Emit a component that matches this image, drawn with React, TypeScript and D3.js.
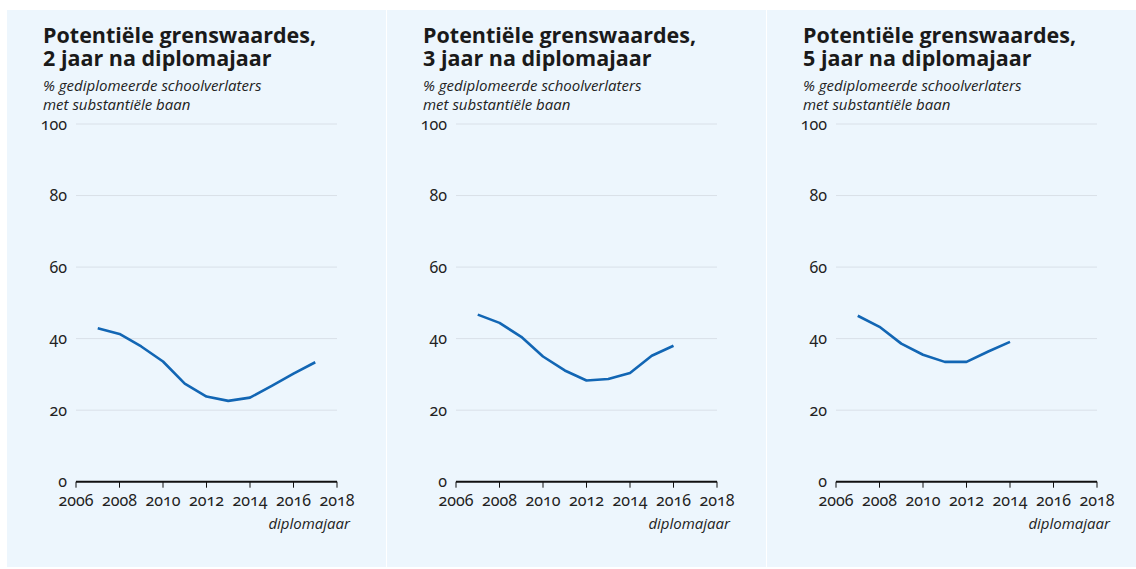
import React from "react";
import * as d3 from "d3";

const years = [2007, 2008, 2009, 2010, 2011, 2012, 2013, 2014, 2015, 2016, 2017];
const after2 = [42.9, 41.3, 37.8, 33.6, 27.4, 23.8, 22.6, 23.5, 26.8, 30.2, 33.4];
const after3 = [46.7, 44.4, 40.5, 35.0, 31.1, 28.3, 28.7, 30.4, 35.2, 38.0];
const after5 = [46.4, 43.3, 38.6, 35.5, 33.5, 33.5, 36.4, 39.1];
const panelLabels = ["2 jaar na diplomajaar", "3 jaar na diplomajaar", "5 jaar na diplomajaar"];
const yTicks = [0, 20, 40, 60, 80, 100];
const xTicks = [2006, 2008, 2010, 2012, 2014, 2016, 2018];

const W = 1136;
const H = 569;
const panelW = 380;
const series = [after2, after3, after5];

const x = d3.scaleLinear().domain([2006, 2018]).range([76, 337]);
const y = d3.scaleLinear().domain([0, 100]).range([481.7, 124]);
const line = d3
  .line<number>()
  .x((_, i) => x(years[i]))
  .y((d) => y(d));

const sans = "'Open Sans', 'Noto Sans', sans-serif";
const numFont = "'Noto Sans', 'Open Sans', sans-serif";
const numStyle = { fontFeatureSettings: "'onum' 1", fontVariantNumeric: "oldstyle-nums" } as React.CSSProperties;

function Panel({ i }: { i: number }) {
  const values = series[i];
  return (
    <g transform={`translate(${i * panelW},0)`}>
      <rect x={7} y={10} width={panelW - 1} height={H - 12} fill="#edf6fd" />
      <text x={43} y={43} fontFamily={sans} fontWeight={700} fontSize={21.5} fill="#1a1a1a">
        Potentiële grenswaardes,
      </text>
      <text x={43} y={66} fontFamily={sans} fontWeight={700} fontSize={21.5} fill="#1a1a1a">
        {panelLabels[i]}
      </text>
      <text x={43} y={91} fontFamily={sans} fontStyle="italic" fontSize={15} fill="#222">
        % gediplomeerde schoolverlaters
      </text>
      <text x={43} y={110} fontFamily={sans} fontStyle="italic" fontSize={15} fill="#222">
        met substantiële baan
      </text>
      {yTicks.map((t) => (
        <g key={t}>
          {t > 0 && (
            <line x1={x(2006)} x2={x(2018)} y1={y(t)} y2={y(t)} stroke="#d9e0e8" strokeWidth={1} />
          )}
          <text
            x={67}
            y={y(t)}
            dy="0.35em"
            textAnchor="end"
            fontFamily={numFont}
            fontSize={16}
            fill="#222"
            style={numStyle}
          >
            {t}
          </text>
        </g>
      ))}
      <line x1={x(2006)} x2={x(2018)} y1={y(0)} y2={y(0)} stroke="#111" strokeWidth={2} />
      {xTicks.map((t) => (
        <g key={t}>
          <line x1={x(t)} x2={x(t)} y1={y(0)} y2={y(0) + 6} stroke="#111" strokeWidth={1} />
          <text
            x={x(t)}
            y={506}
            textAnchor="middle"
            fontFamily={numFont}
            fontSize={16}
            fill="#222"
            style={numStyle}
          >
            {t}
          </text>
        </g>
      ))}
      <text x={350} y={529} textAnchor="end" fontFamily={sans} fontStyle="italic" fontSize={15} fill="#222">
        diplomajaar
      </text>
      <path d={line(values) ?? ""} fill="none" stroke="#1266b4" strokeWidth={2.6} strokeLinejoin="round" />
    </g>
  );
}

export default function App() {
  return (
    <svg
      width={W}
      height={H}
      style={{ position: "absolute", left: 0, top: 0, background: "#fff" }}
    >
      {[0, 1, 2].map((i) => (
        <Panel key={i} i={i} />
      ))}
    </svg>
  );
}
